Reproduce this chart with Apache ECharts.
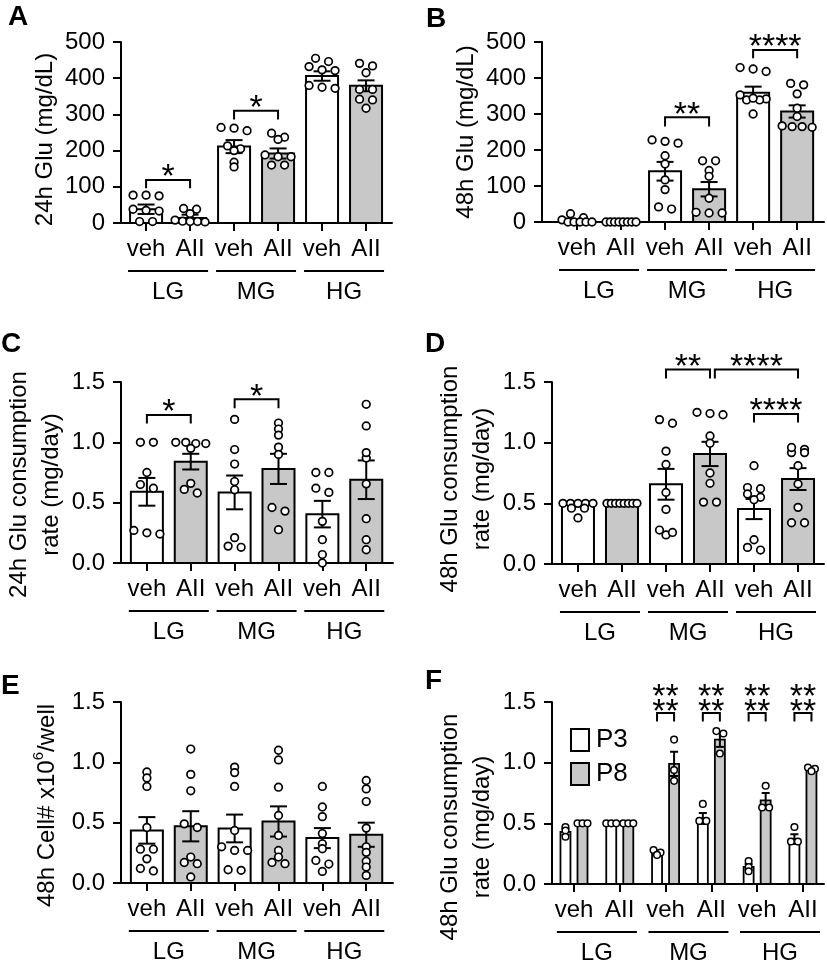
<!DOCTYPE html>
<html><head><meta charset="utf-8">
<script src="https://cdn.jsdelivr.net/npm/echarts@6/dist/echarts.min.js"></script>
<style>html,body{margin:0;padding:0;background:#fff}#c{width:827px;height:960px}</style>
</head><body><div id="c"></div>
<script>
// ---------------- DATA ----------------
const xLabels = ['veh', 'AII', 'veh', 'AII', 'veh', 'AII'];
const groupLabels = ['LG', 'MG', 'HG'];

// A: 24h Glu (mg/dL)
const aMean = [38, 14, 211, 192, 406, 379];
const aSem  = [13, 9, 18, 14, 13, 15];
const aPts = [
  [77, 75, 77, 35, 38, 33, 4, 4],
  [40, 38, 26, 8, 5, 4, 4, 3],
  [262, 255, 264, 205, 213, 200, 168, 155],
  [237, 248, 231, 183, 188, 183, 160, 160],
  [446, 455, 423, 432, 421, 375, 372, 380],
  [434, 441, 415, 369, 369, 342, 317, 340]
];
const aSig = [[0, 1, 119, 23, '*'], [2, 3, 310, 24, '*']];

// B: 48h Glu (mg/dL)
const bMean = [5, 0, 141, 91, 359, 307];
const bSem  = [3, 0, 26, 20, 17, 17];
const bPts = [
  [23, 12, 6, 0, 0, 0, 0, 0],
  [0, 0, 0, 0, 0, 0, 0, 0],
  [224, 228, 219, 184, 161, 117, 90, 36, 42],
  [170, 170, 143, 127, 66, 25, 27, 25],
  [425, 418, 429, 353, 342, 339, 339, 344, 300],
  [385, 381, 356, 316, 293, 263, 265, 265, 267]
];
const bSig = [[2, 3, 291, 26, '**'], [4, 5, 478, 23, '****']];

// C: 24h Glu consumption rate (mg/day)
const cMean = [0.59, 0.84, 0.585, 0.78, 0.405, 0.69];
const cSem  = [0.115, 0.065, 0.14, 0.125, 0.11, 0.16];
const cPts = [
  [1.0, 1.0, 0.75, 0.65, 0.62, 0.24, 0.27, 0.25],
  [1.0, 1.0, 0.99, 0.99, 0.95, 0.66, 0.61, 0.58],
  [1.19, 0.94, 0.82, 0.675, 0.607, 0.21, 0.14, 0.13],
  [1.16, 1.11, 1.06, 0.96, 0.90, 0.46, 0.43, 0.276],
  [0.75, 0.75, 0.585, 0.62, 0.345, 0.193, 0.07, 0.0],
  [1.315, 1.136, 0.87, 0.915, 0.656, 0.367, 0.193, 0.11]
];
const cSig = [[0, 1, 1.227, 0.07, '*'], [2, 3, 1.357, 0.075, '*']];

// D: 48h Glu consumption rate (mg/day)
const dMean = [0.487, 0.5, 0.657, 0.907, 0.453, 0.70];
const dSem  = [0.012, 0, 0.127, 0.1, 0.083, 0.09];
const dPts = [
  [0.5, 0.5, 0.5, 0.5, 0.5, 0.46, 0.46, 0.38],
  [0.5, 0.5, 0.5, 0.5, 0.5, 0.5, 0.5, 0.5],
  [1.19, 1.16, 0.93, 0.82, 0.59, 0.45, 0.24, 0.28, 0.26],
  [1.25, 1.23, 1.24, 1.055, 0.995, 0.75, 0.665, 0.51, 0.51],
  [0.81, 0.63, 0.577, 0.62, 0.55, 0.53, 0.2, 0.115, 0.137],
  [0.945, 0.918, 0.918, 0.96, 0.81, 0.66, 0.467, 0.34, 0.34]
];
const dSig = [[2, 3, 1.604, 0.075, '**'], [3.11, 5, 1.604, 0.075, '****'], [4, 5, 1.236, 0.07, '****']];

// E: 48h Cell# x10^6/well
const eMean = [0.436, 0.47, 0.452, 0.51, 0.372, 0.40];
const eSem  = [0.11, 0.125, 0.115, 0.125, 0.083, 0.1];
const ePts = [
  [0.92, 0.87, 0.80, 0.46, 0.28, 0.28, 0.20, 0.10, 0.12],
  [1.11, 0.9, 0.764, 0.46, 0.49, 0.215, 0.16, 0.17, 0.05],
  [0.96, 0.915, 0.8, 0.435, 0.3, 0.27, 0.27, 0.105, 0.11],
  [1.1, 1.02, 0.794, 0.56, 0.394, 0.27, 0.215, 0.16, 0.17],
  [0.8, 0.63, 0.55, 0.41, 0.325, 0.284, 0.187, 0.157, 0.096],
  [0.85, 0.78, 0.675, 0.455, 0.3, 0.254, 0.18, 0.132, 0.063]
];

// F: 48h Glu consumption rate (mg/day), P3 vs P8
const fSeriesNames = ['P3', 'P8'];
const fP3Mean = [0.43, 0.5, 0.26, 0.54, 0.14, 0.37];
const fP3Sem  = [0.025, 0, 0.012, 0.045, 0.025, 0.04];
const fP3Pts = [[0.47, 0.44, 0.39], [0.5, 0.5, 0.5], [0.28, 0.26, 0.24], [0.66, 0.52, 0.52], [0.19, 0.14, 0.105], [0.47, 0.35, 0.35]];
const fP8Mean = [0.5, 0.5, 0.99, 1.19, 0.69, 0.95];
const fP8Sem  = [0, 0, 0.1, 0.06, 0.06, 0.01];
const fP8Pts = [[0.5, 0.5, 0.5], [0.5, 0.5, 0.5], [1.19, 0.94, 0.85], [1.26, 1.24, 1.075], [0.81, 0.63, 0.63], [0.96, 0.95, 0.93]];
const fSig = [[2, 1.41, 0.07, '**\n**'], [3, 1.41, 0.07, '**\n**'], [4, 1.41, 0.07, '**\n**'], [5, 1.41, 0.07, '**\n**']];

// ---------------- STYLE / BUILD ----------------
const FONT = "'Liberation Sans', Arial, sans-serif";
const FS = 24;
const STAR_FS = 34;
const WHITE = '#ffffff', GRAY = '#c8c8c8';
const grids = [], xAxes = [], yAxes = [], series = [], titles = [];
const cats = xLabels.map((_, i) => i);

function swarm(py, D, limit, T) {
  const idx = py.map((y, i) => i).sort((a, b) => py[a] - py[b]);
  const offs = new Array(py.length).fill(0);
  let row = [];
  const flush = () => {
    const n = row.length;
    const S = n > 1 ? Math.min(D, 2 * limit / (n - 1)) : 0;
    row.forEach((j, m) => { offs[j] = (m - (n - 1) / 2) * S; });
    row = [];
  };
  idx.forEach(j => { if (row.length && py[j] - py[row[0]] > T) flush(); row.push(j); });
  flush();
  return offs;
}

function addBarSet(gi, set) {
  const ax = { xAxisIndex: gi, yAxisIndex: gi };
  series.push(Object.assign({
    type: 'custom', name: set.name, z: 2, silent: true,
    itemStyle: { color: set.fill(0) },
    data: set.means.map((m, k) => [set.xs[k], m, k]),
    renderItem: (params, api) => {
      const x = api.value(0), m = api.value(1), k = api.value(2);
      const t = api.coord([x, m]), b = api.coord([x, 0]);
      return { type: 'rect', shape: { x: t[0] - set.hw, y: t[1], width: 2 * set.hw, height: b[1] - t[1] },
        style: { fill: set.fill(k), stroke: '#000', lineWidth: set.lw } };
    }
  }, ax));
  series.push(Object.assign({
    type: 'custom', z: 3, silent: true,
    data: set.means.map((m, k) => [set.xs[k], m, set.sems[k]]),
    renderItem: (params, api) => {
      const x = api.value(0), m = api.value(1), s = api.value(2);
      if (!(s > 0)) return { type: 'group', children: [] };
      const t = api.coord([x, m + s]), b = api.coord([x, m - s]);
      const st = { stroke: '#000', lineWidth: 2 };
      return { type: 'group', children: [
        { type: 'line', shape: { x1: t[0], y1: t[1], x2: b[0], y2: b[1] }, style: st },
        { type: 'line', shape: { x1: t[0] - set.cap, y1: t[1], x2: t[0] + set.cap, y2: t[1] }, style: st },
        { type: 'line', shape: { x1: b[0] - set.cap, y1: b[1], x2: b[0] + set.cap, y2: b[1] }, style: st }
      ] };
    }
  }, ax));
  series.push(Object.assign({
    type: 'custom', z: 4, silent: true,
    data: set.means.map((m, k) => [set.xs[k], k]),
    renderItem: (params, api) => {
      const x = api.value(0), k = api.value(1);
      const vals = set.pts[k];
      const cx = api.coord([x, 0])[0];
      const py = vals.map(v => api.coord([x, v])[1]);
      const offs = swarm(py, set.D, set.limit, set.T);
      return { type: 'group', children: py.map((y, j) => ({
        type: 'circle', shape: { cx: cx + offs[j], cy: y, r: set.r },
        style: { fill: '#fff', stroke: '#000', lineWidth: set.plw }
      })) };
    }
  }, ax));
}

function addSig(gi, sig) {
  series.push({
    type: 'custom', xAxisIndex: gi, yAxisIndex: gi, z: 5, silent: true,
    data: sig.map((s, i) => [s[0], s[2], s[1], s[3], i]),
    renderItem: (params, api) => {
      const s = sig[api.value(4)];
      const p1 = api.coord([s[0], s[2]]), p2 = api.coord([s[1], s[2]]);
      const l = api.coord([s[0], s[2] - s[3]])[1];
      const multi = s[4].indexOf('\n') >= 0;
      return { type: 'group', children: [
        { type: 'polyline', shape: { points: [[p1[0], l], [p1[0], p1[1]], [p2[0], p2[1]], [p2[0], l]] },
          style: { stroke: '#000', lineWidth: 2, fill: null } },
        { type: 'text', style: { text: s[4], x: (p1[0] + p2[0]) / 2, y: multi ? p1[1] + 7 : p1[1] - 2,
          align: 'center', verticalAlign: multi ? 'bottom' : 'middle', fontSize: STAR_FS, fontFamily: FONT,
          fill: '#000', lineHeight: multi ? 15 : STAR_FS } }
      ] };
    }
  });
}

function panel(c) {
  const gi = grids.length;
  grids.push({ left: c.box[0], top: c.box[1], width: c.box[2], height: c.box[3] });
  xAxes.push({ gridIndex: gi, type: 'value', min: c.xr[0], max: c.xr[1],
    axisLine: { show: true, onZero: false, lineStyle: { color: '#000', width: 2 } },
    axisTick: { show: true, customValues: cats, length: 8, lineStyle: { color: '#000', width: 2 } },
    axisLabel: { show: true, customValues: cats, formatter: v => xLabels[Math.round(v)], color: '#000',
      fontSize: FS, fontFamily: FONT, margin: 14 },
    splitLine: { show: false }, splitArea: { show: false }, minorSplitLine: { show: false } });
  yAxes.push({ gridIndex: gi, type: 'value', min: 0, max: c.yMax, interval: c.yStep,
    name: c.yName, nameLocation: 'middle', nameGap: c.nameGap,
    nameTextStyle: { color: '#000', fontSize: FS, fontFamily: FONT, lineHeight: 32,
      padding: [0, c.nameShift * 2, 0, 0],
      rich: { s: { fontSize: 15, fontFamily: FONT, color: '#000', verticalAlign: 'top', lineHeight: 15 } } },
    axisLine: { show: true, onZero: false, lineStyle: { color: '#000', width: 2 } },
    axisTick: { show: true, length: 8, lineStyle: { color: '#000', width: 2 } },
    axisLabel: { color: '#000', fontSize: FS, fontFamily: FONT, margin: 16, formatter: c.yFmt },
    splitLine: { show: false }, splitArea: { show: false } });
  titles.push({ text: c.letter, left: c.letterPos[0], top: c.letterPos[1], padding: 0,
    textStyle: { fontSize: 28, fontWeight: 'bold', fontFamily: FONT, color: '#000' } });
  // group underline + labels
  series.push({ type: 'custom', xAxisIndex: gi, yAxisIndex: gi, z: 1, silent: true,
    data: groupLabels.map((g, i) => [2 * i + 0.5, 0, i]),
    renderItem: (params, api) => {
      const p = api.coord([api.value(0), 0]);
      return { type: 'group', children: [
        { type: 'line', shape: { x1: p[0] - 40, y1: p[1] + 48, x2: p[0] + 40, y2: p[1] + 48 }, style: { stroke: '#000', lineWidth: 2 } },
        { type: 'text', style: { text: groupLabels[api.value(2)], x: p[0], y: p[1] + 69, align: 'center',
          verticalAlign: 'middle', fontSize: FS, fontFamily: FONT, fill: '#000' } }
      ] };
    } });
  c.sets.forEach(s => addBarSet(gi, s));
  if (c.sig) addSig(gi, c.sig);
}

const alt = k => (k % 2 === 0 ? WHITE : GRAY);
function stdSet(means, sems, pts) {
  return { xs: cats, means, sems, pts, fill: alt, hw: 16, lw: 2, cap: 8.5, r: 3.8, plw: 1.7, D: 13, limit: 15, T: 4.5 };
}
const fmtInt = v => String(v);
const fmt1 = v => v.toFixed(1);
const FOFF = 0.186;

panel({ letter: 'A', letterPos: [8, 3], box: [121, 42, 271, 181], xr: [-0.57, 5.59], yMax: 500, yStep: 100, yFmt: fmtInt,
  yName: '24h Glu (mg/dL)', nameGap: 60, nameShift: 7, sets: [stdSet(aMean, aSem, aPts)], sig: aSig });
panel({ letter: 'B', letterPos: [426, 5], box: [542, 42, 282, 180], xr: [-0.795, 5.61], yMax: 500, yStep: 100, yFmt: fmtInt,
  yName: '48h Glu (mg/dL)', nameGap: 53, nameShift: 0, sets: [stdSet(bMean, bSem, bPts)], sig: bSig });
panel({ letter: 'C', letterPos: [1, 330], box: [121, 382, 272, 181], xr: [-0.59, 5.61], yMax: 1.5, yStep: 0.5, yFmt: fmt1,
  yName: '24h Glu consumption\nrate (mg/day)', nameGap: 52, nameShift: 12, sets: [stdSet(cMean, cSem, cPts)], sig: cSig });
panel({ letter: 'D', letterPos: [425, 330], box: [552, 382, 272, 182], xr: [-0.59, 5.59], yMax: 1.5, yStep: 0.5, yFmt: fmt1,
  yName: '48h Glu consumption\nrate (mg/day)', nameGap: 52, nameShift: 6, sets: [stdSet(dMean, dSem, dPts)], sig: dSig });
panel({ letter: 'E', letterPos: [1, 672], box: [121, 702, 272, 181], xr: [-0.59, 5.61], yMax: 1.5, yStep: 0.5, yFmt: fmt1,
  yName: '48h Cell# x10{s|6}/well', nameGap: 58, nameShift: 13, sets: [stdSet(eMean, eSem, ePts)] });
const fSetBase = { hw: 5, lw: 1.8, cap: 4, r: 3.3, plw: 1.5, D: 7, limit: 5, T: 3 };
panel({ letter: 'F', letterPos: [425, 667], box: [552, 702, 272, 182], xr: [-0.48, 5.46], yMax: 1.5, yStep: 0.5, yFmt: fmt1,
  yName: '48h Glu consumption\nrate (mg/day)', nameGap: 52, nameShift: 34,
  sets: [
    Object.assign({ name: fSeriesNames[0], xs: cats.map(c => c - FOFF), means: fP3Mean, sems: fP3Sem, pts: fP3Pts, fill: () => WHITE }, fSetBase),
    Object.assign({ name: fSeriesNames[1], xs: cats.map(c => c + FOFF), means: fP8Mean, sems: fP8Sem, pts: fP8Pts, fill: () => GRAY }, fSetBase)
  ],
  sig: fSig.map(s => [s[0] - FOFF, s[0] + FOFF, s[1], s[2], s[3]]) });

const chart = echarts.init(document.getElementById('c'), null, { renderer: 'canvas' });
chart.setOption({
  animation: false,
  backgroundColor: '#fff',
  textStyle: { fontFamily: FONT },
  title: titles,
  legend: {
    data: [
      { name: fSeriesNames[0], itemStyle: { color: WHITE, borderColor: '#000', borderWidth: 2 } },
      { name: fSeriesNames[1], itemStyle: { color: GRAY, borderColor: '#000', borderWidth: 2 } }
    ],
    orient: 'vertical', left: 570, top: 727, icon: 'rect', itemWidth: 18, itemHeight: 22, itemGap: 8,
    selectedMode: false, padding: 0,
    textStyle: { fontSize: 26, fontFamily: FONT, color: '#000', padding: [0, 0, 0, 2] }
  },
  grid: grids, xAxis: xAxes, yAxis: yAxes, series: series
});
</script></body></html>
